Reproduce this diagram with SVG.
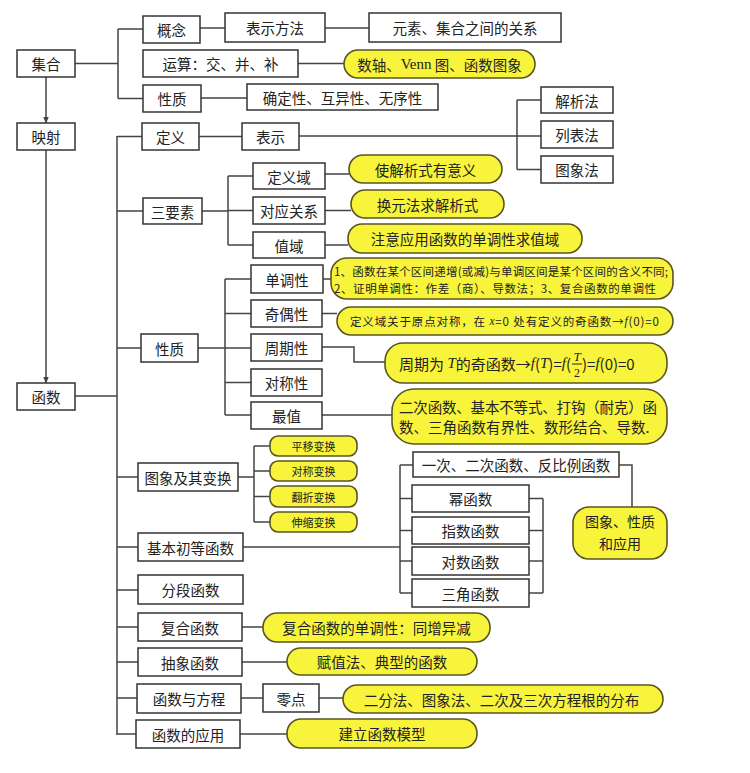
<svg xmlns="http://www.w3.org/2000/svg" width="750" height="773" viewBox="0 0 750 773">
<defs>
<marker id="arr" viewBox="0 0 10 10" refX="9" refY="5" markerWidth="7" markerHeight="7" orient="auto" markerUnits="userSpaceOnUse"><path d="M0,1 L10,5 L0,9 Z" fill="#444"/></marker>
<style>
.box{fill:#fff;stroke:#333;stroke-width:1.5}
.yel{fill:#f8f43c;stroke:#5a5520;stroke-width:1.6}
.t{font-family:"Noto Sans CJK SC","Noto Sans",sans-serif;font-size:14.5px;fill:#222;text-anchor:middle;dominant-baseline:central}
.s{font-size:11.5px}
.m{font-family:"Liberation Serif",serif;font-style:italic}
.c line,.c path{stroke:#444;stroke-width:1.5;fill:none}
</style>
</defs>
<rect width="750" height="773" fill="#fff"/>

<g class="c" id="connectors">
<line x1="46" y1="77" x2="46" y2="123" marker-end="url(#arr)"/>
<line x1="46" y1="150" x2="46" y2="383" marker-end="url(#arr)"/>
<path d="M75,63.5 H118 M118,29 V98.5 M118,29 H143 M118,98.5 H143"/>
<path d="M200,28 H225 M325,28 H369 M298,63.5 H344 M201,98 H247"/>
<path d="M75,396 H117 M117,136 V735"/>
<path d="M117,136.5 H142 M117,211 H143 M117,348 H141 M117,477 H138 M117,547 H138 M117,590 H138 M117,627 H138 M117,662 H138 M117,698 H137 M117,734 H136"/>
<path d="M199,136.5 H242 M299,136 H541 M517,100 V169.5 M517,100 H541 M517,169.5 H541"/>
<path d="M202,211 H228 M228,176 V245 M228,176 H253 M228,210.5 H253 M228,245 H253"/>
<path d="M325,174 H349 M325,210.5 H351 M325,245 H348"/>
<path d="M198,348 H225 M225,279 V415 M225,279 H251 M225,313.5 H251 M225,348 H251 M225,382.5 H251 M225,415 H251"/>
<path d="M323,279 H331 M322,313.5 H337 M322,347 H354 V362 H385 M322,415 H392"/>
<path d="M238,477 H254 M254,446 V522 M254,446 H270 M254,471 H270 M254,496.5 H270 M254,522 H270"/>
<path d="M243,547 H400 M400,465 V593 M400,465 H413 M400,498.5 H412 M400,530.5 H412 M400,561 H412 M400,593 H412"/>
<path d="M529,498.5 H543 M529,530.5 H543 M529,561 H543 M529,593 H543 M543,498.5 V593"/>
<path d="M619,465 H632 V507"/>
<path d="M242,627 H263 M242,662 H287 M241,698 H263 M319,698 H343 M240,734 H287"/>
</g>

<g id="n-jihe"><rect class="box" x="17" y="50" width="58" height="27"/><text class="t" x="46" y="63.5">集合</text></g>
<g id="n-yingshe"><rect class="box" x="17" y="123" width="58" height="27"/><text class="t" x="46" y="136.5">映射</text></g>
<g id="n-hanshu"><rect class="box" x="17" y="383" width="58" height="27"/><text class="t" x="46" y="396.5">函数</text></g>

<g id="n-gainian"><rect class="box" x="143" y="16" width="57" height="27"/><text class="t" x="171.5" y="29.5">概念</text></g>
<g id="n-biaoshifangfa"><rect class="box" x="225" y="13" width="100" height="29"/><text class="t" x="275" y="27.5">表示方法</text></g>
<g id="n-yuansu"><rect class="box" x="369" y="13" width="192" height="29"/><text class="t" x="465" y="27.5">元素、集合之间的关系</text></g>
<g id="n-yunsuan"><rect class="box" x="143" y="50" width="155" height="27"/><text class="t" x="220.5" y="63.5">运算：交、并、补</text></g>
<g id="n-shuzhou"><rect class="yel" x="344" y="50" width="191" height="28" rx="14"/><text class="t" x="439.5" y="64">数轴、<tspan font-family="Liberation Serif" font-size="15">Venn</tspan> 图、函数图象</text></g>
<g id="n-xingzhi1"><rect class="box" x="143" y="85" width="58" height="27"/><text class="t" x="172" y="98.5">性质</text></g>
<g id="n-queding"><rect class="box" x="247" y="84" width="191" height="26"/><text class="t" x="342.5" y="97">确定性、互异性、无序性</text></g>

<g id="n-dingyi"><rect class="box" x="142" y="123" width="57" height="27"/><text class="t" x="170.5" y="136.5">定义</text></g>
<g id="n-biaoshi"><rect class="box" x="242" y="123" width="57" height="27"/><text class="t" x="270.5" y="136.5">表示</text></g>
<g id="n-jiexifa"><rect class="box" x="541" y="87" width="72" height="26"/><text class="t" x="577" y="100">解析法</text></g>
<g id="n-liebiaofa"><rect class="box" x="541" y="121" width="72" height="27"/><text class="t" x="577" y="134.5">列表法</text></g>
<g id="n-tuxiangfa"><rect class="box" x="541" y="156" width="72" height="27"/><text class="t" x="577" y="169.5">图象法</text></g>

<g id="n-sanyaosu"><rect class="box" x="143" y="198" width="59" height="26"/><text class="t" x="172.5" y="211">三要素</text></g>
<g id="n-dingyiyu"><rect class="box" x="253" y="163" width="72" height="26"/><text class="t" x="289" y="176">定义域</text></g>
<g id="n-duiying"><rect class="box" x="253" y="197" width="72" height="27"/><text class="t" x="289" y="210.5">对应关系</text></g>
<g id="n-zhiyu"><rect class="box" x="253" y="232" width="72" height="26"/><text class="t" x="289" y="245">值域</text></g>
<g id="n-y-dingyiyu"><rect class="yel" x="349" y="155" width="153" height="28" rx="14"/><text class="t" x="425.5" y="169">使解析式有意义</text></g>
<g id="n-y-duiying"><rect class="yel" x="351" y="190" width="153" height="28" rx="14"/><text class="t" x="427.5" y="204">换元法求解析式</text></g>
<g id="n-y-zhiyu"><rect class="yel" x="348" y="224" width="234" height="29" rx="14"/><text class="t" x="465" y="238.5">注意应用函数的单调性求值域</text></g>

<g id="n-xingzhi2"><rect class="box" x="141" y="334" width="57" height="28"/><text class="t" x="169.5" y="348">性质</text></g>
<g id="n-dandiao"><rect class="box" x="251" y="265" width="72" height="28"/><text class="t" x="287" y="279">单调性</text></g>
<g id="n-qiou"><rect class="box" x="251" y="300" width="71" height="27"/><text class="t" x="286.5" y="313.5">奇偶性</text></g>
<g id="n-zhouqi"><rect class="box" x="251" y="334" width="71" height="27"/><text class="t" x="286.5" y="347.5">周期性</text></g>
<g id="n-duichen"><rect class="box" x="251" y="369" width="71" height="27"/><text class="t" x="286.5" y="382.5">对称性</text></g>
<g id="n-zuizhi"><rect class="box" x="251" y="402" width="71" height="27"/><text class="t" x="286.5" y="415.5">最值</text></g>
<g id="n-y-dandiao"><rect class="yel" x="331" y="258" width="342" height="41" rx="16"/>
<text class="t s" x="334" y="271" style="text-anchor:start" textLength="334" lengthAdjust="spacing">1、函数在某个区间递增(或减)与单调区间是某个区间的含义不同;</text>
<text class="t s" x="334" y="288" style="text-anchor:start" textLength="322" lengthAdjust="spacing">2、证明单调性：作差（商）、导数法；3、复合函数的单调性</text></g>
<g id="n-y-qiou"><rect class="yel" x="337" y="307" width="336" height="28" rx="14"/>
<text class="t s" x="350" y="321" style="text-anchor:start" textLength="309" lengthAdjust="spacing">定义域关于原点对称，在 <tspan class="m">x</tspan>=0 处有定义的奇函数→<tspan class="m">f</tspan>(0)=0</text></g>
<g id="n-y-zhouqi"><rect class="yel" x="385" y="343" width="282" height="40" rx="18"/>
<text class="t" x="571" y="363" style="text-anchor:end;font-size:15px">周期为 <tspan class="m">T</tspan>的奇函数→<tspan class="m">f</tspan>(<tspan class="m">T</tspan>)=<tspan class="m">f</tspan>(</text>
<text class="t m" x="577" y="356" style="font-size:13px">T</text>
<line x1="572" y1="364" x2="582" y2="364" stroke="#222" stroke-width="1"/>
<text class="t" x="577" y="373" style="font-size:12px;font-family:'Liberation Serif',serif">2</text>
<text class="t" x="582" y="363" style="text-anchor:start;font-size:15px">)=<tspan class="m">f</tspan>(0)=0</text></g>
<g id="n-y-zuizhi"><rect class="yel" x="392" y="389" width="275" height="55" rx="22"/>
<text class="t" x="399" y="406" style="text-anchor:start" textLength="258" lengthAdjust="spacing">二次函数、基本不等式、打钩（耐克）函</text>
<text class="t" x="399" y="426" style="text-anchor:start">数、三角函数有界性、数形结合、导数.</text></g>

<g id="n-tuxiang"><rect class="box" x="138" y="463" width="100" height="28"/><text class="t" x="188" y="477">图象及其变换</text></g>
<g id="n-pingyi"><rect class="yel" x="270" y="436" width="87" height="20" rx="8"/><text class="t s" x="313.5" y="446" style="font-size:11px">平移变换</text></g>
<g id="n-duichenbh"><rect class="yel" x="270" y="461" width="87" height="20" rx="8"/><text class="t s" x="313.5" y="471" style="font-size:11px">对称变换</text></g>
<g id="n-fanzhe"><rect class="yel" x="270" y="486" width="87" height="21" rx="8"/><text class="t s" x="313.5" y="496.5" style="font-size:11px">翻折变换</text></g>
<g id="n-shensuo"><rect class="yel" x="270" y="512" width="87" height="20" rx="8"/><text class="t s" x="313.5" y="522" style="font-size:11px">伸缩变换</text></g>

<g id="n-jiben"><rect class="box" x="138" y="533" width="105" height="28"/><text class="t" x="190.5" y="547">基本初等函数</text></g>
<g id="n-yici"><rect class="box" x="413" y="452" width="206" height="25"/><text class="t" x="516" y="464.5">一次、二次函数、反比例函数</text></g>
<g id="n-mi"><rect class="box" x="412" y="485" width="117" height="27"/><text class="t" x="470.5" y="498.5">幂函数</text></g>
<g id="n-zhishu"><rect class="box" x="412" y="517" width="117" height="27"/><text class="t" x="470.5" y="530.5">指数函数</text></g>
<g id="n-duishu"><rect class="box" x="412" y="547" width="117" height="28"/><text class="t" x="470.5" y="561">对数函数</text></g>
<g id="n-sanjiao"><rect class="box" x="412" y="579" width="117" height="28"/><text class="t" x="470.5" y="593">三角函数</text></g>
<g id="n-y-tuxiang"><rect class="yel" x="573" y="507" width="94" height="52" rx="16"/><text class="t" x="620" y="521" style="font-size:14px">图象、性质</text><text class="t" x="620" y="543" style="font-size:14px">和应用</text></g>

<g id="n-fenduan"><rect class="box" x="138" y="575" width="105" height="29"/><text class="t" x="190.5" y="589.5">分段函数</text></g>
<g id="n-fuhe"><rect class="box" x="138" y="613" width="104" height="28"/><text class="t" x="190" y="627">复合函数</text></g>
<g id="n-y-fuhe"><rect class="yel" x="263" y="613" width="227" height="29" rx="14"/><text class="t" x="376.5" y="627.5">复合函数的单调性：同增异减</text></g>
<g id="n-chouxiang"><rect class="box" x="138" y="648" width="104" height="28"/><text class="t" x="190" y="662">抽象函数</text></g>
<g id="n-y-chouxiang"><rect class="yel" x="287" y="648" width="190" height="27" rx="13.5"/><text class="t" x="382" y="661.5">赋值法、典型的函数</text></g>
<g id="n-fangcheng"><rect class="box" x="137" y="684" width="104" height="29"/><text class="t" x="189" y="698.5">函数与方程</text></g>
<g id="n-lingdian"><rect class="box" x="263" y="684" width="56" height="28"/><text class="t" x="291" y="698">零点</text></g>
<g id="n-y-lingdian"><rect class="yel" x="343" y="685" width="320" height="28" rx="14"/><text class="t" x="501.5" y="699">二分法、图象法、二次及三次方程根的分布</text></g>
<g id="n-yingyong"><rect class="box" x="136" y="720" width="104" height="28"/><text class="t" x="188" y="734">函数的应用</text></g>
<g id="n-y-yingyong"><rect class="yel" x="287" y="719" width="190" height="29" rx="14"/><text class="t" x="382" y="733.5">建立函数模型</text></g>
</svg>
